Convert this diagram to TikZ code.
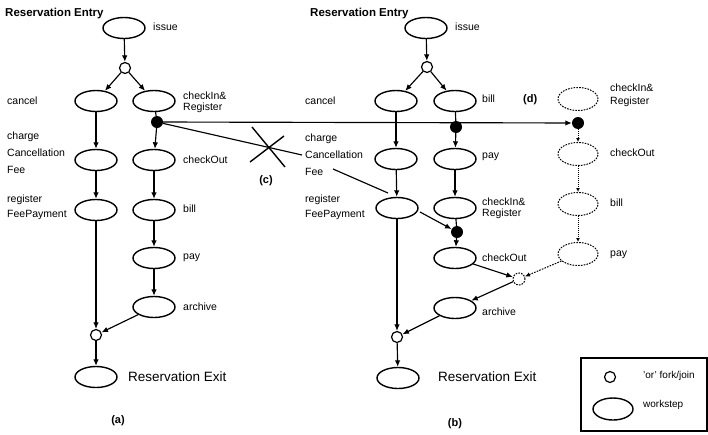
\documentclass[tikz,border=0pt]{standalone}
\usepackage{fontspec}
\setmainfont{Liberation Sans}
\usetikzlibrary{shapes.geometric,arrows.meta}
\begin{document}
\begin{tikzpicture}[x=1pt,y=-1pt,
  ws/.style={ellipse, draw, line width=1.4pt, minimum width=42pt, minimum height=21pt, inner sep=0pt},
  wsd/.style={ellipse, draw, line width=1pt, dash pattern=on 1.6pt off 1.2pt, minimum width=40pt, minimum height=23pt, inner sep=0pt},
  orc/.style={circle, draw, line width=1.2pt, minimum size=11pt, inner sep=0pt},
  orcd/.style={circle, draw, line width=1pt, dash pattern=on 1.6pt off 1.2pt, minimum size=12pt, inner sep=0pt},
  dotn/.style={circle, fill=black, minimum size=12pt, inner sep=0pt},
  lbl/.style={anchor=west, inner sep=0pt, align=left, font=\fontsize{10.5}{12}\selectfont},
  ttl/.style={anchor=west, inner sep=0pt, font=\bfseries\fontsize{11.5}{13}\selectfont},
  captn/.style={inner sep=0pt, font=\bfseries\fontsize{11}{13}\selectfont},
  arr/.style={-{Latex[length=6.5pt,width=5.5pt]}, line width=1.15pt},
  ln/.style={line width=1.15pt},
  arrd/.style={-{Latex[length=5pt,width=4.5pt,open]}, line width=1pt, dash pattern=on 1.6pt off 1.2pt},
  arrdot/.style={-{Latex[length=4pt,width=4pt,open]}, line width=1pt, dash pattern=on 1pt off 1pt}
]
\useasboundingbox (0,0) rectangle (708,434);

% ---------------- panel (a) ----------------
\node[ttl] (tta) at (5,14) {Reservation Entry};
\node[ws] (ia) at (124,28) {};
\node[lbl] (lia) at (153,27) {issue};
\node[orc] (ora) at (125,68) {};
\node[ws] (cana) at (96,101) {};
\node[lbl] (lcana) at (7,101) {cancel};
\node[ws] (cira) at (154,101) {};
\node[lbl, font=\fontsize{10.5}{11}\selectfont] (lcira) at (183,102) {checkIn\&\\Register};
\node[dotn] (dota) at (157,122) {};
\node[ws] (chga) at (96,160) {};
\node[lbl, font=\fontsize{10.5}{17}\selectfont] (lchga) at (7,153) {charge\\Cancellation\\Fee};
\node[ws] (coa) at (154,160) {};
\node[lbl] (lcoa) at (183,160) {checkOut};
\node[ws] (rfa) at (96,210) {};
\node[lbl, font=\fontsize{10.5}{15}\selectfont] (lrfa) at (7,207) {register\\FeePayment};
\node[ws] (billa) at (154,210) {};
\node[lbl] (lbilla) at (183,209) {bill};
\node[ws] (paya) at (154,258) {};
\node[lbl] (lpaya) at (183,258) {pay};
\node[ws] (arca) at (154,307) {};
\node[lbl] (larca) at (183,307) {archive};
\node[orc] (orxa) at (96,335) {};
\node[ws] (exa) at (96,377) {};
\node[lbl, font=\fontsize{13.5}{15}\selectfont] (lexa) at (128,377) {Reservation Exit};
\node[captn] (capa) at (118,421) {(a)};

\draw[arr] (ia) -- (ora);
\draw[arr] (ora) -- (cana);
\draw[arr] (ora) -- (cira);
\draw[arr] (cana) -- (chga);
\draw[arr] (chga) -- (rfa);
\draw[arr] (rfa) -- (orxa);
\draw[ln] (cira) -- (dota);
\draw[arr] (dota) -- (coa);
\draw[arr] (coa) -- (billa);
\draw[arr] (billa) -- (paya);
\draw[arr] (paya) -- (arca);
\draw[arr] (arca) -- (orxa);
\draw[arr] (orxa) -- (exa);

% ---------------- panel (b) ----------------
\node[ttl] (ttb) at (310,14) {Reservation Entry};
\node[ws] (ib) at (426,28) {};
\node[lbl] (lib) at (455,27) {issue};
\node[orc] (orb) at (427,67) {};
\node[ws] (canb) at (396,101) {};
\node[lbl] (lcanb) at (305,101) {cancel};
\node[ws] (billb) at (455,101) {};
\node[lbl] (lbillb) at (482,99) {bill};
\node[dotn] (dotb) at (456,127) {};
\node[ws] (chgb) at (396,159) {};
\node[lbl, font=\fontsize{10.5}{17}\selectfont] (lchgb) at (305,155) {charge\\Cancellation\\Fee};
\node[ws] (payb) at (455,159) {};
\node[lbl] (lpayb) at (482,157) {pay};
\node[ws] (rfb) at (397,208) {};
\node[lbl, font=\fontsize{10.5}{15}\selectfont] (lrfb) at (305,207) {register\\FeePayment};
\node[ws] (cirb) at (455,208) {};
\node[lbl, font=\fontsize{10.5}{11}\selectfont] (lcirb) at (482,208) {checkIn\&\\Register};
\node[dotn] (dotb2) at (457,232) {};
\node[ws] (cob) at (455,258) {};
\node[lbl] (lcob) at (482,258) {checkOut};
\node[orcd] (joinb) at (519,279) {};
\node[ws] (arcb) at (455,308) {};
\node[lbl] (larcb) at (482,312) {archive};
\node[orc] (orxb) at (397,337) {};
\node[ws] (exb) at (398,378) {};
\node[lbl, font=\fontsize{13.5}{15}\selectfont] (lexb) at (438,377) {Reservation Exit};
\node[captn] (capb) at (455,424) {(b)};

\draw[arr] (ib) -- (orb);
\draw[arr] (orb) -- (canb);
\draw[arr] (orb) -- (billb);
\draw[arr] (canb) -- (chgb);
\draw[ln] (billb) -- (dotb);
\draw[arr] (dotb) -- (payb);
\draw[arr] (chgb) -- (rfb);
\draw[arr] (payb) -- (cirb);
\draw[ln] (cirb) -- (dotb2);
\draw[arr] (dotb2) -- (cob);
\draw[arr] (rfb) -- (orxb);
\draw[arr] (cob) -- (joinb);
\draw[arr] (joinb) -- (arcb);
\draw[arr] (arcb) -- (orxb);
\draw[arr] (orxb) -- (exb);

% ---------------- panel (d) ----------------
\node[lbl, font=\bfseries\fontsize{11}{13}\selectfont] (capd) at (523,100) {(d)};
\node[wsd] (cird) at (578,99) {};
\node[lbl, font=\fontsize{10.5}{13}\selectfont] (lcird) at (610,95) {checkIn\&\\Register};
\node[dotn] (dotd) at (578,123) {};
\node[wsd] (cod) at (578,154) {};
\node[lbl] (lcod) at (610,153) {checkOut};
\node[wsd] (billd) at (578,204) {};
\node[lbl] (lbilld) at (610,203) {bill};
\node[wsd] (payd) at (578,254) {};
\node[lbl] (lpayd) at (610,255) {pay};

\draw[arrdot] (dotd) -- (cod);
\draw[arrdot] (cod) -- (billd);
\draw[arrdot] (billd) -- (payd);
\draw[arrd] (payd) -- (joinb);

% ---------------- cross-panel connectors ----------------
\draw[arr] (dota) -- (dotd);
\coordinate (c1) at (302,155);
\coordinate (c2) at (333,169);
\coordinate (c3) at (388,193);
\coordinate (c4) at (420,212);
\draw[ln] (dota) -- (c1);
\draw[ln] (c2) -- (c3);
\draw[arr] (c4) -- (dotb2);

% (c) cross
\coordinate (x1) at (252,127);
\coordinate (x2) at (285,167);
\coordinate (x3) at (250,162);
\coordinate (x4) at (284,136);
\draw[line width=1.4pt] (x1) -- (x2);
\draw[line width=1.4pt] (x3) -- (x4);
\node[captn] (capc) at (266,181) {(c)};

% ---------------- legend ----------------
\draw[line width=1.1pt] (581,358) rectangle (707,431);
\node[orc] (lgor) at (610,377) {};
\node[lbl, font=\fontsize{10}{12}\selectfont] (lgort) at (643,376) {'or' fork/join};
\node[ws, minimum width=40pt, minimum height=22pt] (lgws) at (613,409) {};
\node[lbl, font=\fontsize{10}{12}\selectfont] (lgwst) at (643,405) {workstep};
\end{tikzpicture}
\end{document}
